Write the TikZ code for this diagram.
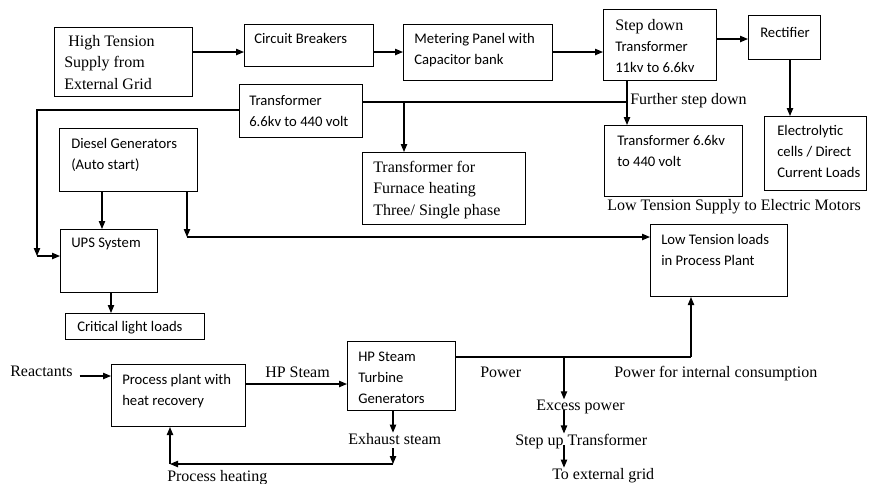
\documentclass[tikz,border=0pt]{standalone}
\usepackage{fontspec}
\setmainfont{Liberation Serif}
\newfontfamily\calib{Carlito}
\usetikzlibrary{arrows.meta,calc}

\tikzset{
  blk/.style 2 args={draw, line width=0.8pt, anchor=north west, inner sep=0pt,
    minimum width=#1*0.75pt, minimum height=#2*0.75pt},
  sanstxt/.style={font=\calib\fontsize{11}{15.8}\selectfont, align=left, inner sep=0pt, anchor=north west},
  sertxt/.style={font=\fontsize{12}{16}\selectfont, align=left, inner sep=0pt, anchor=north west},
  tag/.style={font=\fontsize{12}{14}\selectfont, inner sep=0pt, anchor=base west},
  wire/.style={line width=0.8pt},
  flow/.style={line width=0.8pt, -{Triangle[length=6pt,width=4.8pt]}},
}

\begin{document}
\begin{tikzpicture}[x=0.75pt,y=-0.75pt]
\useasboundingbox (0,0) rectangle (872,483);

% ---------- boxes ----------
\node[blk={138}{69}] (ht) at (54,27) {};
\node[blk={129}{42}] (cb) at (244,24) {};
\node[blk={149}{56}] (mp) at (403,24) {};
\node[blk={113}{71}] (sd) at (603,9) {};
\node[blk={72}{44}]  (rc) at (748,15) {};
\node[blk={102}{74}] (el) at (764,116) {};
\node[blk={123}{53}] (t1) at (239,84) {};
\node[blk={163}{72}] (tf) at (362,152) {};
\node[blk={138}{71}] (t2) at (604,125) {};
\node[blk={138}{63}] (dg) at (59,128) {};
\node[blk={97}{63}]  (ups) at (60,229) {};
\node[blk={139}{26}] (cl) at (65,313) {};
\node[blk={137}{72}] (lt) at (650,224) {};
\node[blk={134}{62}] (pp) at (111,364) {};
\node[blk={108}{69}] (tg) at (347,341) {};

% ---------- box texts ----------
\node[sertxt]  (ht-t) at ([shift={(10,8)}]ht.north west) {\hspace{3pt}High Tension\\Supply from\\External Grid};
\node[sanstxt] (cb-t) at ([shift={(10,9)}]cb.north west) {Circuit Breakers};
\node[sanstxt] (mp-t) at ([shift={(11,9)}]mp.north west) {Metering Panel with\\Capacitor bank};
\node[sanstxt] (sd-t) at ([shift={(12,10)}]sd.north west) {{\rmfamily\fontsize{12}{16}\selectfont Step down}\\Transformer\\11kv to 6.6kv};
\node[sanstxt] (rc-t) at ([shift={(12,12)}]rc.north west) {Rectifier};
\node[sanstxt] (el-t) at ([shift={(13,9)}]el.north west) {Electrolytic\\cells / Direct\\Current Loads};
\node[sanstxt] (t1-t) at ([shift={(10,11)}]t1.north west) {Transformer\\6.6kv to 440 volt};
\node[sertxt]  (tf-t) at ([shift={(11,9)}]tf.north west) {Transformer for\\Furnace heating\\Three/ Single phase};
\node[sanstxt] (t2-t) at ([shift={(13,10)}]t2.north west) {Transformer 6.6kv\\to 440 volt};
\node[sanstxt] (dg-t) at ([shift={(12,10)}]dg.north west) {Diesel Generators\\(Auto start)};
\node[sanstxt] (ups-t) at ([shift={(11,9)}]ups.north west) {UPS System};
\node[sanstxt] (cl-t) at ([shift={(12,8)}]cl.north west) {Critical light loads};
\node[sanstxt] (lt-t) at ([shift={(11,10)}]lt.north west) {Low Tension loads\\in Process Plant};
\node[sanstxt] (pp-t) at ([shift={(11,10)}]pp.north west) {Process plant with\\heat recovery};
\node[sanstxt] (tg-t) at ([shift={(11,11)}]tg.north west) {HP Steam\\Turbine\\Generators};

% ---------- free labels ----------
\node[tag] (fsd) at (630,104) {Further step down};
\node[tag] (lts) at (607,210) {Low Tension Supply to Electric Motors};
\node[tag] (reac) at (10,376) {Reactants};
\node[tag] (hps) at (265,377) {HP Steam};
\node[tag] (pw) at (480,377) {Power};
\node[tag] (pwi) at (614,377) {Power for internal consumption};
\node[tag] (es) at (348,444) {Exhaust steam};
\node[tag] (ex) at (536,410) {Excess power};
\node[tag] (su) at (515,445) {Step up Transformer};
\node[tag] (eg) at (552,479) {To external grid};
\node[tag] (ph) at (167,481) {Process heating};

% ---------- junction points ----------
\coordinate (j1) at (627,102);
\coordinate (j2) at (404,102);
\coordinate (j3) at (37,256);
\coordinate (j4) at (187,237);
\coordinate (pj) at (564,357);
\coordinate (lj) at (691,357);
\coordinate (hj) at (393,464);
\coordinate (hk) at (170,464);

% ---------- connectors: supply chain ----------
\draw[flow] (ht.east |- 0,52) -- (cb.west |- 0,52);
\draw[flow] (cb.east |- 0,52) -- (mp.west |- 0,52);
\draw[flow] (mp.east |- 0,52) -- (sd.west |- 0,52);
\draw[flow] (sd.east |- 0,39) -- (rc.west |- 0,39);
\draw[flow] (rc.south -| 790,0) -- (el.north -| 790,0);
\draw[flow] (sd.south -| j1) -- (t2.north -| j1);
\draw[wire] (t1.east |- j1) -- (j1);
\draw[flow] (j2) -- (tf.north -| j2);
\draw[flow] (t1.west |- 0,110) -| (j3);
\draw[flow] (j3) -- (ups.west |- j3);
\draw[flow] (dg.south -| 102,0) -- (ups.north -| 102,0);
\draw[flow] (dg.south -| j4) -- (j4);
\draw[flow] (j4) -- (lt.west |- j4);
\draw[flow] (ups.south -| 111,0) -- (cl.north -| 111,0);

% ---------- connectors: process plant ----------
\draw[flow] ($(reac.east |- 0,376)+(7,0)$) -- (pp.west |- 0,376);
\draw[flow] (pp.east |- 0,384) -- (tg.west |- 0,384);
\draw[wire] (tg.east |- pj) -- (lj);
\draw[flow] (lj) -- (lt.south -| lj);
\draw[flow] (pj) -- (pj |- ex.north);
\draw[flow] (pj |- ex.base) -- (pj |- su.north);
\draw[flow] (pj |- su.base) -- (pj |- eg.north);
\draw[flow] (tg.south -| hj) -- (hj |- es.north);
\draw[flow] ($(es.base -| hj)+(0,4)$) -- (hj);
\draw[flow] (hj) -- (hk);
\draw[flow] (hk) -- (pp.south -| hk);
\end{tikzpicture}
\end{document}
